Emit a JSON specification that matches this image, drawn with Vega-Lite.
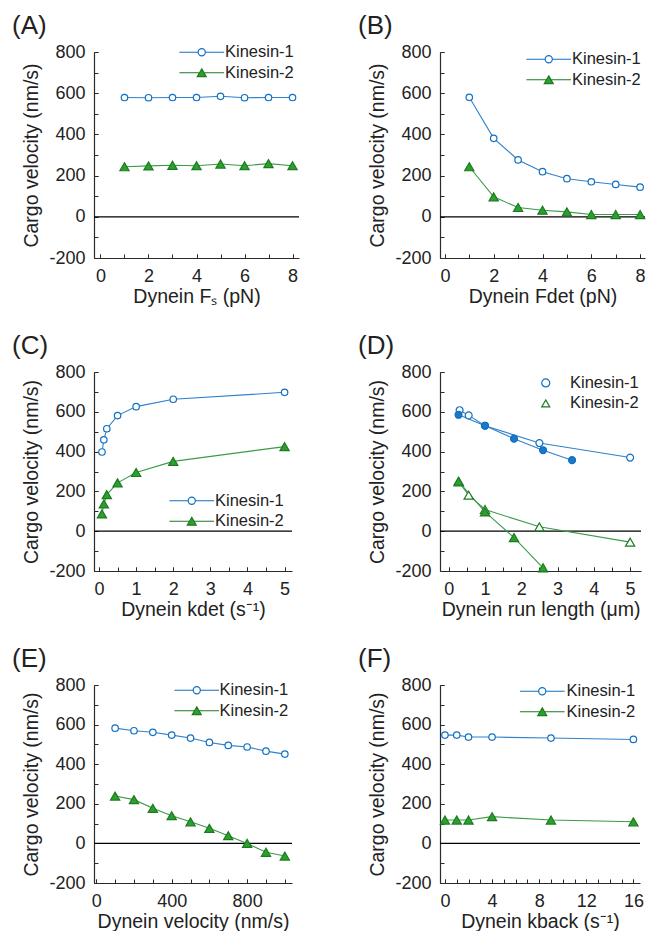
{
  "$schema": "https://vega.github.io/schema/vega-lite/v6.json",
  "padding": {"left": 12, "top": 13, "right": 0, "bottom": 0},
  "background": "white",
  "config": {
    "view": {"stroke": null},
    "axis": {
      "grid": false, "domainColor": "#2b2b2b", "tickColor": "#2b2b2b", "domainWidth": 1.2, "tickWidth": 1,
      "tickSize": -4, "labelFont": "Liberation Sans", "titleFont": "Liberation Sans",
      "labelFontSize": 18, "titleFontSize": 19.5, "titleFontWeight": "normal", "labelColor": "#222", "titleColor": "#222",
      "labelOverlap": false, "labelFlush": false
    },
    "axisX": {"labelPadding": 13, "titlePadding": 2},
    "axisY": {"labelPadding": 13, "titlePadding": 7},
    "title": {"anchor": "start", "frame": "group", "dx": -82, "fontSize": 26, "font": "Liberation Sans", "fontWeight": "normal", "color": "#222", "offset": 4},
    "legend": {"orient": "none", "labelFont": "Liberation Sans", "labelFontSize": 16.5, "labelColor": "#222", "padding": 0, "rowPadding": 3.5, "symbolStrokeWidth": 1.2}
  },
  "data": {"values": [
    {"p":"A","s":"Kinesin-1","set":"open","x":1,"v":579},{"p":"A","s":"Kinesin-1","set":"open","x":2,"v":578},{"p":"A","s":"Kinesin-1","set":"open","x":3,"v":579},{"p":"A","s":"Kinesin-1","set":"open","x":4,"v":579},{"p":"A","s":"Kinesin-1","set":"open","x":5,"v":585},{"p":"A","s":"Kinesin-1","set":"open","x":6,"v":578},{"p":"A","s":"Kinesin-1","set":"open","x":7,"v":579},{"p":"A","s":"Kinesin-1","set":"open","x":8,"v":579},
    {"p":"A","s":"Kinesin-2","set":"open","x":1,"v":243},{"p":"A","s":"Kinesin-2","set":"open","x":2,"v":247},{"p":"A","s":"Kinesin-2","set":"open","x":3,"v":250},{"p":"A","s":"Kinesin-2","set":"open","x":4,"v":248},{"p":"A","s":"Kinesin-2","set":"open","x":5,"v":256},{"p":"A","s":"Kinesin-2","set":"open","x":6,"v":248},{"p":"A","s":"Kinesin-2","set":"open","x":7,"v":258},{"p":"A","s":"Kinesin-2","set":"open","x":8,"v":248},
    {"p":"B","s":"Kinesin-1","set":"open","x":1,"v":580},{"p":"B","s":"Kinesin-1","set":"open","x":2,"v":381},{"p":"B","s":"Kinesin-1","set":"open","x":3,"v":276},{"p":"B","s":"Kinesin-1","set":"open","x":4,"v":219},{"p":"B","s":"Kinesin-1","set":"open","x":5,"v":185},{"p":"B","s":"Kinesin-1","set":"open","x":6,"v":170},{"p":"B","s":"Kinesin-1","set":"open","x":7,"v":157},{"p":"B","s":"Kinesin-1","set":"open","x":8,"v":144},
    {"p":"B","s":"Kinesin-2","set":"open","x":1,"v":243},{"p":"B","s":"Kinesin-2","set":"open","x":2,"v":97},{"p":"B","s":"Kinesin-2","set":"open","x":3,"v":45},{"p":"B","s":"Kinesin-2","set":"open","x":4,"v":32},{"p":"B","s":"Kinesin-2","set":"open","x":5,"v":24},{"p":"B","s":"Kinesin-2","set":"open","x":6,"v":11},{"p":"B","s":"Kinesin-2","set":"open","x":7,"v":11},{"p":"B","s":"Kinesin-2","set":"open","x":8,"v":11},
    {"p":"C","s":"Kinesin-1","set":"open","x":0.08,"v":398},{"p":"C","s":"Kinesin-1","set":"open","x":0.13,"v":459},{"p":"C","s":"Kinesin-1","set":"open","x":0.21,"v":515},{"p":"C","s":"Kinesin-1","set":"open","x":0.5,"v":581},{"p":"C","s":"Kinesin-1","set":"open","x":1,"v":626},{"p":"C","s":"Kinesin-1","set":"open","x":2,"v":663},{"p":"C","s":"Kinesin-1","set":"open","x":5,"v":698},
    {"p":"C","s":"Kinesin-2","set":"open","x":0.08,"v":87},{"p":"C","s":"Kinesin-2","set":"open","x":0.13,"v":137},{"p":"C","s":"Kinesin-2","set":"open","x":0.21,"v":184},{"p":"C","s":"Kinesin-2","set":"open","x":0.5,"v":243},{"p":"C","s":"Kinesin-2","set":"open","x":1,"v":295},{"p":"C","s":"Kinesin-2","set":"open","x":2,"v":351},{"p":"C","s":"Kinesin-2","set":"open","x":5,"v":425},
    {"p":"D","s":"Kinesin-1","set":"open","x":0.3,"v":608},{"p":"D","s":"Kinesin-1","set":"open","x":0.55,"v":582},{"p":"D","s":"Kinesin-1","set":"open","x":1,"v":530},{"p":"D","s":"Kinesin-1","set":"open","x":2.5,"v":443},{"p":"D","s":"Kinesin-1","set":"open","x":5,"v":370},
    {"p":"D","s":"Kinesin-1","set":"filled","x":0.27,"v":585},{"p":"D","s":"Kinesin-1","set":"filled","x":1,"v":530},{"p":"D","s":"Kinesin-1","set":"filled","x":1.8,"v":465},{"p":"D","s":"Kinesin-1","set":"filled","x":2.6,"v":407},{"p":"D","s":"Kinesin-1","set":"filled","x":3.4,"v":357},
    {"p":"D","s":"Kinesin-2","set":"open","x":0.28,"v":248},{"p":"D","s":"Kinesin-2","set":"open","x":0.55,"v":181},{"p":"D","s":"Kinesin-2","set":"open","x":1,"v":109},{"p":"D","s":"Kinesin-2","set":"open","x":2.5,"v":22},{"p":"D","s":"Kinesin-2","set":"open","x":5,"v":-55},
    {"p":"D","s":"Kinesin-2","set":"filled","x":0.27,"v":251},{"p":"D","s":"Kinesin-2","set":"filled","x":1,"v":97},{"p":"D","s":"Kinesin-2","set":"filled","x":1.8,"v":-32},{"p":"D","s":"Kinesin-2","set":"filled","x":2.6,"v":-184},
    {"p":"E","s":"Kinesin-1","set":"open","x":100,"v":582},{"p":"E","s":"Kinesin-1","set":"open","x":200,"v":569},{"p":"E","s":"Kinesin-1","set":"open","x":300,"v":561},{"p":"E","s":"Kinesin-1","set":"open","x":400,"v":547},{"p":"E","s":"Kinesin-1","set":"open","x":500,"v":532},{"p":"E","s":"Kinesin-1","set":"open","x":600,"v":510},{"p":"E","s":"Kinesin-1","set":"open","x":700,"v":495},{"p":"E","s":"Kinesin-1","set":"open","x":800,"v":487},{"p":"E","s":"Kinesin-1","set":"open","x":900,"v":466},{"p":"E","s":"Kinesin-1","set":"open","x":1000,"v":451},
    {"p":"E","s":"Kinesin-2","set":"open","x":100,"v":239},{"p":"E","s":"Kinesin-2","set":"open","x":200,"v":221},{"p":"E","s":"Kinesin-2","set":"open","x":300,"v":177},{"p":"E","s":"Kinesin-2","set":"open","x":400,"v":140},{"p":"E","s":"Kinesin-2","set":"open","x":500,"v":109},{"p":"E","s":"Kinesin-2","set":"open","x":600,"v":76},{"p":"E","s":"Kinesin-2","set":"open","x":700,"v":39},{"p":"E","s":"Kinesin-2","set":"open","x":800,"v":0},{"p":"E","s":"Kinesin-2","set":"open","x":900,"v":-45},{"p":"E","s":"Kinesin-2","set":"open","x":1000,"v":-64},
    {"p":"F","s":"Kinesin-1","set":"open","x":0,"v":547},{"p":"F","s":"Kinesin-1","set":"open","x":1,"v":547},{"p":"F","s":"Kinesin-1","set":"open","x":2,"v":537},{"p":"F","s":"Kinesin-1","set":"open","x":4,"v":537},{"p":"F","s":"Kinesin-1","set":"open","x":9,"v":532},{"p":"F","s":"Kinesin-1","set":"open","x":16,"v":525},
    {"p":"F","s":"Kinesin-2","set":"open","x":0,"v":118},{"p":"F","s":"Kinesin-2","set":"open","x":1,"v":118},{"p":"F","s":"Kinesin-2","set":"open","x":2,"v":118},{"p":"F","s":"Kinesin-2","set":"open","x":4,"v":135},{"p":"F","s":"Kinesin-2","set":"open","x":9,"v":118},{"p":"F","s":"Kinesin-2","set":"open","x":16,"v":109}
  ]},
  "columns": 2,
  "spacing": {"row": 114, "column": 141},
  "bounds": "flush",
  "resolve": {
    "scale": {"shape": "independent", "stroke": "independent", "fill": "independent"},
    "legend": {"shape": "independent", "stroke": "independent", "fill": "independent"}
  },
  "concat": [
    {
      "width": 205, "height": 206, "title": {"text": "(A)"},
      "resolve": {"axis": {"x": "independent", "y": "independent"}},
      "layer": [
        {"data": {"values": [{}]}, "mark": {"type": "rule", "color": "black", "strokeWidth": 1.3}, "encoding": {"y": {"datum": 0, "type": "quantitative", "scale": {"domain": [-200, 800], "nice": false}, "axis": null}}},
        {"transform": [{"filter": "datum.p === 'A'"}], "mark": {"type": "line", "strokeWidth": 1.1},
         "encoding": {
           "x": {"field": "x", "type": "quantitative", "scale": {"domain": [-0.27, 8.27], "nice": false, "zero": false}, "axis": {"orient": "bottom", "title": null, "labels": false, "domain": false, "values": [0,1,2,3,4,5,6,7,8]}},
           "y": {"field": "v", "type": "quantitative", "scale": {"domain": [-200, 800], "nice": false}, "axis": {"orient": "left", "title": null, "labels": false, "domain": false, "values": [-200,-100,0,100,200,300,400,500,600,700,800]}},
           "detail": {"field": "s"},
           "color": {"condition": {"test": "datum.s === 'Kinesin-1'", "value": "#2f82cc"}, "value": "#3b9a48"}
         }},
        {"transform": [{"filter": "datum.p === 'A'"}], "mark": {"type": "point", "filled": true, "opacity": 1, "strokeWidth": 1.2},
         "encoding": {
           "x": {"field": "x", "type": "quantitative", "scale": {"domain": [-0.27, 8.27], "nice": false, "zero": false}, "axis": {"orient": "bottom", "title": "Dynein Fₛ (pN)", "values": [0,2,4,6,8], "labelExpr": "'' + datum.value"}},
           "y": {"field": "v", "type": "quantitative", "scale": {"domain": [-200, 800], "nice": false}, "axis": {"orient": "left", "title": "Cargo velocity (nm/s)", "values": [-200,0,200,400,600,800], "labelExpr": "'' + datum.value"}},
           "shape": {"condition": {"test": "datum.s === 'Kinesin-1'", "value": "circle"}, "value": "triangle-up"},
           "stroke": {"condition": {"test": "datum.s === 'Kinesin-1'", "value": "#1170c2"}, "value": "#1d7a22"},
           "fill": {"condition": {"test": "datum.s === 'Kinesin-1'", "value": "#ffffff"}, "value": "#2ca02c"},
           "size": {"condition": {"test": "datum.s === 'Kinesin-1'", "value": 42}, "value": 85}
         }},
        {"transform": [{"filter": "datum.p === 'none'"}], "mark": {"type": "point", "filled": true, "opacity": 1, "strokeWidth": 1.2},
         "encoding": {
           "shape": {"field": "s", "type": "nominal", "scale": {"domain": ["Kinesin-1", "Kinesin-2"], "range": ["M-5,0L-0.8,0M0.8,0L5,0M0.8,0A0.8,0.8,0,1,1,-0.8,0A0.8,0.8,0,1,1,0.8,0Z", "M-5,0L-0.5,0M0.5,0L5,0M0,-0.87L1,0.87L-1,0.87Z"]}, "legend": {"title": null, "legendX": 99.5, "legendY": -8, "symbolSize": 80, "labelOffset": 15}},
           "stroke": {"field": "s", "type": "nominal", "scale": {"domain": ["Kinesin-1", "Kinesin-2"], "range": ["#1170c2", "#1d7a22"]}, "legend": {"title": null, "legendX": 99.5, "legendY": -8, "symbolSize": 80, "labelOffset": 15}},
           "fill": {"field": "s", "type": "nominal", "scale": {"domain": ["Kinesin-1", "Kinesin-2"], "range": ["#ffffff", "#2ca02c"]}, "legend": {"title": null, "legendX": 99.5, "legendY": -8, "symbolSize": 80, "labelOffset": 15}}
         }}
      ]
    },
    {
      "width": 205, "height": 206, "title": {"text": "(B)"},
      "resolve": {"axis": {"x": "independent", "y": "independent"}},
      "layer": [
        {"data": {"values": [{}]}, "mark": {"type": "rule", "color": "black", "strokeWidth": 1.3}, "encoding": {"y": {"datum": 0, "type": "quantitative", "scale": {"domain": [-200, 800], "nice": false}, "axis": null}}},
        {"transform": [{"filter": "datum.p === 'B'"}], "mark": {"type": "line", "strokeWidth": 1.1},
         "encoding": {
           "x": {"field": "x", "type": "quantitative", "scale": {"domain": [-0.2, 8.2], "nice": false, "zero": false}, "axis": {"orient": "bottom", "title": null, "labels": false, "domain": false, "values": [0,1,2,3,4,5,6,7,8]}},
           "y": {"field": "v", "type": "quantitative", "scale": {"domain": [-200, 800], "nice": false}, "axis": {"orient": "left", "title": null, "labels": false, "domain": false, "values": [-200,-100,0,100,200,300,400,500,600,700,800]}},
           "detail": {"field": "s"},
           "color": {"condition": {"test": "datum.s === 'Kinesin-1'", "value": "#2f82cc"}, "value": "#3b9a48"}
         }},
        {"transform": [{"filter": "datum.p === 'B'"}], "mark": {"type": "point", "filled": true, "opacity": 1, "strokeWidth": 1.2},
         "encoding": {
           "x": {"field": "x", "type": "quantitative", "scale": {"domain": [-0.2, 8.2], "nice": false, "zero": false}, "axis": {"orient": "bottom", "title": "Dynein Fdet (pN)", "values": [0,2,4,6,8], "labelExpr": "'' + datum.value"}},
           "y": {"field": "v", "type": "quantitative", "scale": {"domain": [-200, 800], "nice": false}, "axis": {"orient": "left", "title": "Cargo velocity (nm/s)", "values": [-200,0,200,400,600,800], "labelExpr": "'' + datum.value"}},
           "shape": {"condition": {"test": "datum.s === 'Kinesin-1'", "value": "circle"}, "value": "triangle-up"},
           "stroke": {"condition": {"test": "datum.s === 'Kinesin-1'", "value": "#1170c2"}, "value": "#1d7a22"},
           "fill": {"condition": {"test": "datum.s === 'Kinesin-1'", "value": "#ffffff"}, "value": "#2ca02c"},
           "size": {"condition": {"test": "datum.s === 'Kinesin-1'", "value": 42}, "value": 85}
         }},
        {"transform": [{"filter": "datum.p === 'none'"}], "mark": {"type": "point", "filled": true, "opacity": 1, "strokeWidth": 1.2},
         "encoding": {
           "shape": {"field": "s", "type": "nominal", "scale": {"domain": ["Kinesin-1", "Kinesin-2"], "range": ["M-5,0L-0.8,0M0.8,0L5,0M0.8,0A0.8,0.8,0,1,1,-0.8,0A0.8,0.8,0,1,1,0.8,0Z", "M-5,0L-0.5,0M0.5,0L5,0M0,-0.87L1,0.87L-1,0.87Z"]}, "legend": {"title": null, "legendX": 100.5, "legendY": -1, "symbolSize": 80, "labelOffset": 15}},
           "stroke": {"field": "s", "type": "nominal", "scale": {"domain": ["Kinesin-1", "Kinesin-2"], "range": ["#1170c2", "#1d7a22"]}, "legend": {"title": null, "legendX": 100.5, "legendY": -1, "symbolSize": 80, "labelOffset": 15}},
           "fill": {"field": "s", "type": "nominal", "scale": {"domain": ["Kinesin-1", "Kinesin-2"], "range": ["#ffffff", "#2ca02c"]}, "legend": {"title": null, "legendX": 100.5, "legendY": -1, "symbolSize": 80, "labelOffset": 15}}
         }}
      ]
    },
    {
      "width": 198, "height": 199, "title": {"text": "(C)"},
      "resolve": {"axis": {"x": "independent", "y": "independent"}},
      "layer": [
        {"data": {"values": [{}]}, "mark": {"type": "rule", "color": "black", "strokeWidth": 1.3}, "encoding": {"y": {"datum": 0, "type": "quantitative", "scale": {"domain": [-200, 800], "nice": false}, "axis": null}}},
        {"transform": [{"filter": "datum.p === 'C'"}], "mark": {"type": "line", "strokeWidth": 1.1},
         "encoding": {
           "x": {"field": "x", "type": "quantitative", "scale": {"domain": [-0.135, 5.2], "nice": false, "zero": false}, "axis": {"orient": "bottom", "title": null, "labels": false, "domain": false, "values": [0,0.5,1,1.5,2,2.5,3,3.5,4,4.5,5]}},
           "y": {"field": "v", "type": "quantitative", "scale": {"domain": [-200, 800], "nice": false}, "axis": {"orient": "left", "title": null, "labels": false, "domain": false, "values": [-200,-100,0,100,200,300,400,500,600,700,800]}},
           "detail": {"field": "s"},
           "color": {"condition": {"test": "datum.s === 'Kinesin-1'", "value": "#2f82cc"}, "value": "#3b9a48"}
         }},
        {"transform": [{"filter": "datum.p === 'C'"}], "mark": {"type": "point", "filled": true, "opacity": 1, "strokeWidth": 1.2},
         "encoding": {
           "x": {"field": "x", "type": "quantitative", "scale": {"domain": [-0.135, 5.2], "nice": false, "zero": false}, "axis": {"orient": "bottom", "title": "Dynein kdet (s⁻¹)", "values": [0,1,2,3,4,5], "labelExpr": "'' + datum.value"}},
           "y": {"field": "v", "type": "quantitative", "scale": {"domain": [-200, 800], "nice": false}, "axis": {"orient": "left", "title": "Cargo velocity (nm/s)", "values": [-200,0,200,400,600,800], "labelExpr": "'' + datum.value"}},
           "shape": {"condition": {"test": "datum.s === 'Kinesin-1'", "value": "circle"}, "value": "triangle-up"},
           "stroke": {"condition": {"test": "datum.s === 'Kinesin-1'", "value": "#1170c2"}, "value": "#1d7a22"},
           "fill": {"condition": {"test": "datum.s === 'Kinesin-1'", "value": "#ffffff"}, "value": "#2ca02c"},
           "size": {"condition": {"test": "datum.s === 'Kinesin-1'", "value": 42}, "value": 85}
         }},
        {"transform": [{"filter": "datum.p === 'none'"}], "mark": {"type": "point", "filled": true, "opacity": 1, "strokeWidth": 1.2},
         "encoding": {
           "shape": {"field": "s", "type": "nominal", "scale": {"domain": ["Kinesin-1", "Kinesin-2"], "range": ["M-5,0L-0.8,0M0.8,0L5,0M0.8,0A0.8,0.8,0,1,1,-0.8,0A0.8,0.8,0,1,1,0.8,0Z", "M-5,0L-0.5,0M0.5,0L5,0M0,-0.87L1,0.87L-1,0.87Z"]}, "legend": {"title": null, "legendX": 89.5, "legendY": 120.5, "symbolSize": 80, "labelOffset": 15}},
           "stroke": {"field": "s", "type": "nominal", "scale": {"domain": ["Kinesin-1", "Kinesin-2"], "range": ["#1170c2", "#1d7a22"]}, "legend": {"title": null, "legendX": 89.5, "legendY": 120.5, "symbolSize": 80, "labelOffset": 15}},
           "fill": {"field": "s", "type": "nominal", "scale": {"domain": ["Kinesin-1", "Kinesin-2"], "range": ["#ffffff", "#2ca02c"]}, "legend": {"title": null, "legendX": 89.5, "legendY": 120.5, "symbolSize": 80, "labelOffset": 15}}
         }}
      ]
    },
    {
      "width": 201, "height": 199, "title": {"text": "(D)"},
      "resolve": {"axis": {"x": "independent", "y": "independent"}},
      "layer": [
        {"data": {"values": [{}]}, "mark": {"type": "rule", "color": "black", "strokeWidth": 1.3}, "encoding": {"y": {"datum": 0, "type": "quantitative", "scale": {"domain": [-200, 800], "nice": false}, "axis": null}}},
        {"transform": [{"filter": "datum.p === 'D'"}], "mark": {"type": "line", "strokeWidth": 1.1},
         "encoding": {
           "x": {"field": "x", "type": "quantitative", "scale": {"domain": [-0.24, 5.3], "nice": false, "zero": false}, "axis": {"orient": "bottom", "title": null, "labels": false, "domain": false, "values": [0,0.5,1,1.5,2,2.5,3,3.5,4,4.5,5]}},
           "y": {"field": "v", "type": "quantitative", "scale": {"domain": [-200, 800], "nice": false}, "axis": {"orient": "left", "title": null, "labels": false, "domain": false, "values": [-200,-100,0,100,200,300,400,500,600,700,800]}},
           "detail": [{"field": "s"}, {"field": "set"}],
           "color": {"condition": {"test": "datum.s === 'Kinesin-1'", "value": "#2f82cc"}, "value": "#3b9a48"}
         }},
        {"transform": [{"filter": "datum.p === 'D' && datum.set === 'open'"}], "mark": {"type": "point", "filled": true, "fill": "white", "opacity": 1, "strokeWidth": 1.2},
         "encoding": {
           "x": {"field": "x", "type": "quantitative", "scale": {"domain": [-0.24, 5.3], "nice": false, "zero": false}, "axis": {"orient": "bottom", "title": "Dynein run length (μm)", "values": [0,1,2,3,4,5], "labelExpr": "'' + datum.value"}},
           "y": {"field": "v", "type": "quantitative", "scale": {"domain": [-200, 800], "nice": false}, "axis": {"orient": "left", "title": "Cargo velocity (nm/s)", "values": [-200,0,200,400,600,800], "labelExpr": "'' + datum.value"}},
           "shape": {"field": "s", "type": "nominal", "scale": {"domain": ["Kinesin-1", "Kinesin-2"], "range": ["circle", "triangle-up"]}, "legend": {"title": null, "legendX": 97.5, "legendY": 2.7, "symbolSize": 64, "labelOffset": 16, "symbolFillColor": "white"}},
           "stroke": {"field": "s", "type": "nominal", "scale": {"domain": ["Kinesin-1", "Kinesin-2"], "range": ["#1170c2", "#1d7a22"]}, "legend": {"title": null, "legendX": 97.5, "legendY": 2.7, "symbolSize": 64, "labelOffset": 16, "symbolFillColor": "white"}},
           "size": {"condition": {"test": "datum.s === 'Kinesin-1'", "value": 48}, "value": 85}
         }},
        {"transform": [{"filter": "datum.p === 'D' && datum.set === 'filled'"}], "mark": {"type": "point", "filled": true, "opacity": 1, "strokeWidth": 1.2},
         "encoding": {
           "x": {"field": "x", "type": "quantitative", "scale": {"domain": [-0.24, 5.3], "nice": false, "zero": false}, "axis": null},
           "y": {"field": "v", "type": "quantitative", "scale": {"domain": [-200, 800], "nice": false}, "axis": null},
           "shape": {"condition": {"test": "datum.s === 'Kinesin-1'", "value": "circle"}, "value": "triangle-up"},
           "fill": {"condition": {"test": "datum.s === 'Kinesin-1'", "value": "#1a78c8"}, "value": "#2ca02c"},
           "stroke": {"condition": {"test": "datum.s === 'Kinesin-1'", "value": "#1170c2"}, "value": "#1d7a22"},
           "size": {"condition": {"test": "datum.s === 'Kinesin-1'", "value": 48}, "value": 85}
         }}
      ]
    },
    {
      "width": 198, "height": 198, "title": {"text": "(E)"},
      "resolve": {"axis": {"x": "independent", "y": "independent"}},
      "layer": [
        {"data": {"values": [{}]}, "mark": {"type": "rule", "color": "black", "strokeWidth": 1.3}, "encoding": {"y": {"datum": 0, "type": "quantitative", "scale": {"domain": [-200, 800], "nice": false}, "axis": null}}},
        {"transform": [{"filter": "datum.p === 'E'"}], "mark": {"type": "line", "strokeWidth": 1.1},
         "encoding": {
           "x": {"field": "x", "type": "quantitative", "scale": {"domain": [-12, 1038], "nice": false, "zero": false}, "axis": {"orient": "bottom", "title": null, "labels": false, "domain": false, "values": [0,100,200,300,400,500,600,700,800,900,1000]}},
           "y": {"field": "v", "type": "quantitative", "scale": {"domain": [-200, 800], "nice": false}, "axis": {"orient": "left", "title": null, "labels": false, "domain": false, "values": [-200,-100,0,100,200,300,400,500,600,700,800]}},
           "detail": {"field": "s"},
           "color": {"condition": {"test": "datum.s === 'Kinesin-1'", "value": "#2f82cc"}, "value": "#3b9a48"}
         }},
        {"transform": [{"filter": "datum.p === 'E'"}], "mark": {"type": "point", "filled": true, "opacity": 1, "strokeWidth": 1.2},
         "encoding": {
           "x": {"field": "x", "type": "quantitative", "scale": {"domain": [-12, 1038], "nice": false, "zero": false}, "axis": {"orient": "bottom", "title": "Dynein velocity (nm/s)", "values": [0,400,800], "labelExpr": "'' + datum.value"}},
           "y": {"field": "v", "type": "quantitative", "scale": {"domain": [-200, 800], "nice": false}, "axis": {"orient": "left", "title": "Cargo velocity (nm/s)", "values": [-200,0,200,400,600,800], "labelExpr": "'' + datum.value"}},
           "shape": {"condition": {"test": "datum.s === 'Kinesin-1'", "value": "circle"}, "value": "triangle-up"},
           "stroke": {"condition": {"test": "datum.s === 'Kinesin-1'", "value": "#1170c2"}, "value": "#1d7a22"},
           "fill": {"condition": {"test": "datum.s === 'Kinesin-1'", "value": "#ffffff"}, "value": "#2ca02c"},
           "size": {"condition": {"test": "datum.s === 'Kinesin-1'", "value": 42}, "value": 85}
         }},
        {"transform": [{"filter": "datum.p === 'none'"}], "mark": {"type": "point", "filled": true, "opacity": 1, "strokeWidth": 1.2},
         "encoding": {
           "shape": {"field": "s", "type": "nominal", "scale": {"domain": ["Kinesin-1", "Kinesin-2"], "range": ["M-5,0L-0.8,0M0.8,0L5,0M0.8,0A0.8,0.8,0,1,1,-0.8,0A0.8,0.8,0,1,1,0.8,0Z", "M-5,0L-0.5,0M0.5,0L5,0M0,-0.87L1,0.87L-1,0.87Z"]}, "legend": {"title": null, "legendX": 94.5, "legendY": -3, "symbolSize": 80, "labelOffset": 14.5}},
           "stroke": {"field": "s", "type": "nominal", "scale": {"domain": ["Kinesin-1", "Kinesin-2"], "range": ["#1170c2", "#1d7a22"]}, "legend": {"title": null, "legendX": 94.5, "legendY": -3, "symbolSize": 80, "labelOffset": 14.5}},
           "fill": {"field": "s", "type": "nominal", "scale": {"domain": ["Kinesin-1", "Kinesin-2"], "range": ["#ffffff", "#2ca02c"]}, "legend": {"title": null, "legendX": 94.5, "legendY": -3, "symbolSize": 80, "labelOffset": 14.5}}
         }}
      ]
    },
    {
      "width": 200, "height": 198, "title": {"text": "(F)"},
      "resolve": {"axis": {"x": "independent", "y": "independent"}},
      "layer": [
        {"data": {"values": [{}]}, "mark": {"type": "rule", "color": "black", "strokeWidth": 1.3}, "encoding": {"y": {"datum": 0, "type": "quantitative", "scale": {"domain": [-200, 800], "nice": false}, "axis": null}}},
        {"transform": [{"filter": "datum.p === 'F'"}], "mark": {"type": "line", "strokeWidth": 1.1},
         "encoding": {
           "x": {"field": "x", "type": "quantitative", "scale": {"domain": [-0.42, 16.56], "nice": false, "zero": false}, "axis": {"orient": "bottom", "title": null, "labels": false, "domain": false, "values": [0,1,2,3,4,5,6,7,8,9,10,11,12,13,14,15,16]}},
           "y": {"field": "v", "type": "quantitative", "scale": {"domain": [-200, 800], "nice": false}, "axis": {"orient": "left", "title": null, "labels": false, "domain": false, "values": [-200,-100,0,100,200,300,400,500,600,700,800]}},
           "detail": {"field": "s"},
           "color": {"condition": {"test": "datum.s === 'Kinesin-1'", "value": "#2f82cc"}, "value": "#3b9a48"}
         }},
        {"transform": [{"filter": "datum.p === 'F'"}], "mark": {"type": "point", "filled": true, "opacity": 1, "strokeWidth": 1.2},
         "encoding": {
           "x": {"field": "x", "type": "quantitative", "scale": {"domain": [-0.42, 16.56], "nice": false, "zero": false}, "axis": {"orient": "bottom", "title": "Dynein kback (s⁻¹)", "values": [0,4,8,12,16], "labelExpr": "'' + datum.value"}},
           "y": {"field": "v", "type": "quantitative", "scale": {"domain": [-200, 800], "nice": false}, "axis": {"orient": "left", "title": "Cargo velocity (nm/s)", "values": [-200,0,200,400,600,800], "labelExpr": "'' + datum.value"}},
           "shape": {"condition": {"test": "datum.s === 'Kinesin-1'", "value": "circle"}, "value": "triangle-up"},
           "stroke": {"condition": {"test": "datum.s === 'Kinesin-1'", "value": "#1170c2"}, "value": "#1d7a22"},
           "fill": {"condition": {"test": "datum.s === 'Kinesin-1'", "value": "#ffffff"}, "value": "#2ca02c"},
           "size": {"condition": {"test": "datum.s === 'Kinesin-1'", "value": 42}, "value": 85}
         }},
        {"transform": [{"filter": "datum.p === 'none'"}], "mark": {"type": "point", "filled": true, "opacity": 1, "strokeWidth": 1.2},
         "encoding": {
           "shape": {"field": "s", "type": "nominal", "scale": {"domain": ["Kinesin-1", "Kinesin-2"], "range": ["M-5,0L-0.8,0M0.8,0L5,0M0.8,0A0.8,0.8,0,1,1,-0.8,0A0.8,0.8,0,1,1,0.8,0Z", "M-5,0L-0.5,0M0.5,0L5,0M0,-0.87L1,0.87L-1,0.87Z"]}, "legend": {"title": null, "legendX": 94, "legendY": -2, "symbolSize": 80, "labelOffset": 16}},
           "stroke": {"field": "s", "type": "nominal", "scale": {"domain": ["Kinesin-1", "Kinesin-2"], "range": ["#1170c2", "#1d7a22"]}, "legend": {"title": null, "legendX": 94, "legendY": -2, "symbolSize": 80, "labelOffset": 16}},
           "fill": {"field": "s", "type": "nominal", "scale": {"domain": ["Kinesin-1", "Kinesin-2"], "range": ["#ffffff", "#2ca02c"]}, "legend": {"title": null, "legendX": 94, "legendY": -2, "symbolSize": 80, "labelOffset": 16}}
         }}
      ]
    }
  ]
}
